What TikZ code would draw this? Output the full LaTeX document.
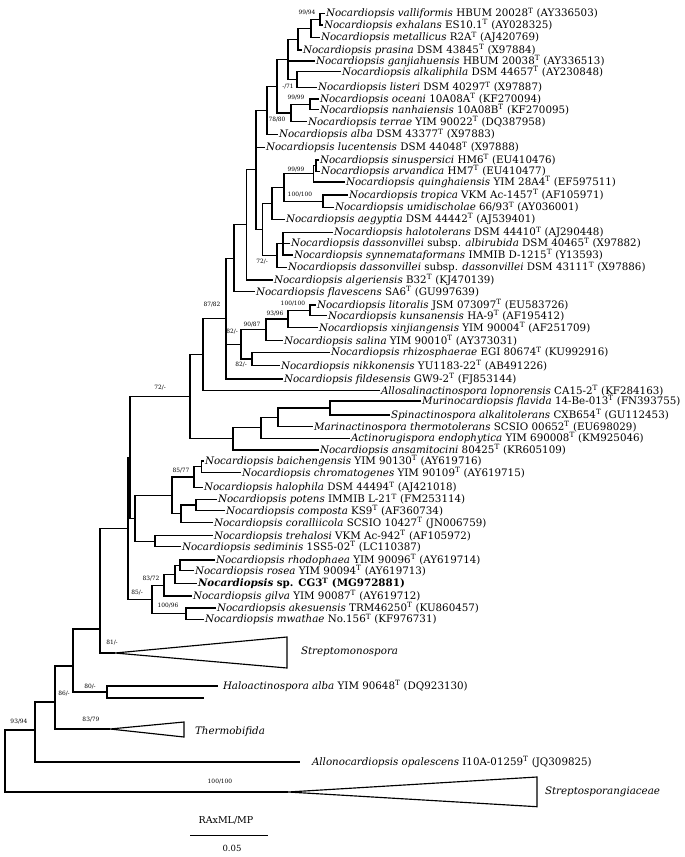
\documentclass[tikz,border=0pt]{standalone}
\usepackage{fontspec}
\setmainfont{DejaVu Serif}
\usetikzlibrary{calc}
\newcommand{\supT}{\textsuperscript{T}}
\newcommand{\leaffont}{\fontsize{10.3}{12}\selectfont}
\newcommand{\bsfont}{\fontsize{5.9}{6.5}\selectfont}
\newcommand{\conn}[2]{\draw[branch] (#1) |- (#2);}
\begin{document}
\begin{tikzpicture}[x=1pt,y=-1pt]
\tikzset{
  branch/.style={line width=1.15pt},
  leaf/.style={anchor=west, inner xsep=0.8pt, inner ysep=0pt, font=\leaffont},
  bs/.style={inner sep=0pt, font=\bsfont},
  clade/.style={line width=1.15pt, line join=miter}
}
\useasboundingbox[fill=white] (0,0) rectangle (685,857);

% ---------------- leaves ----------------
\node[leaf] (L1) at (325,13.3) {\textit{Nocardiopsis valliformis} HBUM 20028\supT\ (AY336503)};
\node[leaf] (L2) at (323,25) {\textit{Nocardiopsis exhalans} ES10.1\supT\ (AY028325)};
\node[leaf] (L3) at (320,37.3) {\textit{Nocardiopsis metallicus} R2A\supT\ (AJ420769)};
\node[leaf] (L4) at (302,50) {\textit{Nocardiopsis prasina} DSM 43845\supT\ (X97884)};
\node[leaf] (L5) at (315,61) {\textit{Nocardiopsis ganjiahuensis} HBUM 20038\supT\ (AY336513)};
\node[leaf] (L6) at (341,71.7) {\textit{Nocardiopsis alkaliphila} DSM 44657\supT\ (AY230848)};
\node[leaf] (L7) at (317,87.3) {\textit{Nocardiopsis listeri} DSM 40297\supT\ (X97887)};
\node[leaf] (L8) at (319,99) {\textit{Nocardiopsis oceani} 10A08A\supT\ (KF270094)};
\node[leaf] (L9) at (319,109.8) {\textit{Nocardiopsis nanhaiensis} 10A08B\supT\ (KF270095)};
\node[leaf] (L10) at (307,121.7) {\textit{Nocardiopsis terrae} YIM 90022\supT\ (DQ387958)};
\node[leaf] (L11) at (278,134.3) {\textit{Nocardiopsis alba} DSM 43377\supT\ (X97883)};
\node[leaf] (L12) at (265,147.3) {\textit{Nocardiopsis lucentensis} DSM 44048\supT\ (X97888)};
\node[leaf] (L13) at (319,160) {\textit{Nocardiopsis sinuspersici} HM6\supT\ (EU410476)};
\node[leaf] (L14) at (320,171.2) {\textit{Nocardiopsis arvandica} HM7\supT\ (EU410477)};
\node[leaf] (L15) at (345,182) {\textit{Nocardiopsis quinghaiensis} YIM 28A4\supT\ (EF597511)};
\node[leaf] (L16) at (348,195) {\textit{Nocardiopsis tropica} VKM Ac-1457\supT\ (AF105971)};
\node[leaf] (L17) at (334,207.3) {\textit{Nocardiopsis umidischolae} 66/93\supT\ (AY036001)};
\node[leaf] (L18) at (285,219.3) {\textit{Nocardiopsis aegyptia} DSM 44442\supT\ (AJ539401)};
\node[leaf] (L19) at (333,232.3) {\textit{Nocardiopsis halotolerans} DSM 44410\supT\ (AJ290448)};
\node[leaf] (L20) at (290,243.3) {\textit{Nocardiopsis dassonvillei} subsp. \textit{albirubida} DSM 40465\supT\ (X97882)};
\node[leaf] (L21) at (293,255) {\textit{Nocardiopsis synnemataformans} IMMIB D-1215\supT\ (Y13593)};
\node[leaf] (L22) at (287,267.3) {\textit{Nocardiopsis dassonvillei} subsp. \textit{dassonvillei} DSM 43111\supT\ (X97886)};
\node[leaf] (L23) at (273,280) {\textit{Nocardiopsis algeriensis} B32\supT\ (KJ470139)};
\node[leaf] (L24) at (255,291.7) {\textit{Nocardiopsis flavescens} SA6\supT\ (GU997639)};
\node[leaf] (L25) at (316,305) {\textit{Nocardiopsis litoralis} JSM 073097\supT\ (EU583726)};
\node[leaf] (L26) at (327,315.7) {\textit{Nocardiopsis kunsanensis} HA-9\supT\ (AF195412)};
\node[leaf] (L27) at (318,327.7) {\textit{Nocardiopsis xinjiangensis} YIM 90004\supT\ (AF251709)};
\node[leaf] (L28) at (283,340.7) {\textit{Nocardiopsis salina} YIM 90010\supT\ (AY373031)};
\node[leaf] (L29) at (330,352.3) {\textit{Nocardiopsis rhizosphaerae} EGI 80674\supT\ (KU992916)};
\node[leaf] (L30) at (280,365.7) {\textit{Nocardiopsis nikkonensis} YU1183-22\supT\ (AB491226)};
\node[leaf] (L31) at (283,379) {\textit{Nocardiopsis fildesensis} GW9-2\supT\ (FJ853144)};
\node[leaf] (L32) at (380,390.7) {\textit{Allosalinactinospora lopnorensis} CA15-2\supT\ (KF284163)};
\node[leaf] (L33) at (421,401) {\textit{Murinocardiopsis flavida} 14-Be-013\supT\ (FN393755)};
\node[leaf] (L34) at (390,415) {\textit{Spinactinospora alkalitolerans} CXB654\supT\ (GU112453)};
\node[leaf] (L35) at (313,426.7) {\textit{Marinactinospora thermotolerans} SCSIO 00652\supT\ (EU698029)};
\node[leaf] (L36) at (350,438.3) {\textit{Actinorugispora endophytica} YIM 690008\supT\ (KM925046)};
\node[leaf] (L37) at (319,450) {\textit{Nocardiopsis ansamitocini} 80425\supT\ (KR605109)};
\node[leaf] (L38) at (204,461) {\textit{Nocardiopsis baichengensis} YIM 90130\supT\ (AY619716)};
\node[leaf] (L39) at (241,472.7) {\textit{Nocardiopsis chromatogenes} YIM 90109\supT\ (AY619715)};
\node[leaf] (L40) at (203,487.3) {\textit{Nocardiopsis halophila} DSM 44494\supT\ (AJ421018)};
\node[leaf] (L41) at (217,499.3) {\textit{Nocardiopsis potens} IMMIB L-21\supT\ (FM253114)};
\node[leaf] (L42) at (225,510.7) {\textit{Nocardiopsis composta} KS9\supT\ (AF360734)};
\node[leaf] (L43) at (213,522.7) {\textit{Nocardiopsis coralliicola} SCSIO 10427\supT\ (JN006759)};
\node[leaf] (L44) at (213,535.7) {\textit{Nocardiopsis trehalosi} VKM Ac-942\supT\ (AF105972)};
\node[leaf] (L45) at (181,546.7) {\textit{Nocardiopsis sediminis} 1SS5-02\supT\ (LC110387)};
\node[leaf] (L46) at (215,560) {\textit{Nocardiopsis rhodophaea} YIM 90096\supT\ (AY619714)};
\node[leaf] (L47) at (194,570.8) {\textit{Nocardiopsis rosea} YIM 90094\supT\ (AY619713)};
\node[leaf] (L48) at (197,583.3) {\textbf{\textit{Nocardiopsis} sp. CG3\supT\ (MG972881)}};
\node[leaf] (L49) at (192,596) {\textit{Nocardiopsis gilva} YIM 90087\supT\ (AY619712)};
\node[leaf] (L50) at (216,608) {\textit{Nocardiopsis akesuensis} TRM46250\supT\ (KU860457)};
\node[leaf] (L51) at (204,619.3) {\textit{Nocardiopsis mwathae} No.156\supT\ (KF976731)};

% ---------------- internal nodes ----------------
\coordinate (VE) at (320,19.2);
\coordinate (M313) at (311,28.2);
\coordinate (P299) at (298,39.1);
\coordinate (AL) at (297,79.5);
\coordinate (G288) at (288,59.3);
\coordinate (ON) at (310,104.4);
\coordinate (T78) at (291,113);
\coordinate (N277) at (277,86.2);
\coordinate (T1) at (267,110.2);
\coordinate (N1) at (316,165.6);
\coordinate (N2) at (313.5,173.8);
\coordinate (N3) at (323,201.2);
\coordinate (N4) at (284,187.5);
\coordinate (N5) at (272,203.4);
\coordinate (N6) at (283,243.7);
\coordinate (N7) at (277,255.5);
\coordinate (N8) at (262.5,229.4);
\coordinate (W) at (256,169.8);
\coordinate (N9) at (246.5,224.9);
\coordinate (B) at (234,258.3);
\coordinate (C100) at (310,310.4);
\coordinate (C93) at (288,319);
\coordinate (C90) at (266,329.9);
\coordinate (Rn) at (252,359);
\coordinate (C) at (241,344.5);
\coordinate (A) at (226,318.7);
\coordinate (N87) at (203,354.7);
\coordinate (MS) at (330,408);
\coordinate (N278) at (278,417.3);
\coordinate (N260) at (261,427.8);
\coordinate (N232) at (233,438.9);
\coordinate (N190) at (190,396.8);
\coordinate (BC) at (201.5,466.8);
\coordinate (N85) at (194,477);
\coordinate (PC) at (196,505);
\coordinate (N181) at (181,513.9);
\coordinate (N172) at (172,495.4);
\coordinate (TS) at (155,541.2);
\coordinate (N135) at (135,518.3);
\coordinate (N72) at (130,457.6);
\coordinate (RR) at (180,565.4);
\coordinate (N175) at (175,574.3);
\coordinate (N83) at (164,585.1);
\coordinate (AM) at (186,613.7);
\coordinate (N85b) at (152,599.4);
\coordinate (N128) at (128,528.5);
\coordinate (N100) at (100,629);
\coordinate (HA) at (107,692);
\coordinate (N73) at (73,666);
\coordinate (N55) at (55,702);
\coordinate (N35) at (35,730);
\coordinate (ROOT) at (5,761);

% collapsed clades and lower leaves
\coordinate (SMa) at (115,653);
\coordinate (SMt) at (287,637);
\coordinate (SMb) at (287,668);
\coordinate (THa) at (110,729);
\coordinate (THt) at (184,722);
\coordinate (THb) at (184,737);
\coordinate (SSa) at (288,792);
\coordinate (SSt) at (537,777);
\coordinate (SSb) at (537,806.7);
\coordinate (HAe) at (218,686);
\coordinate (HBe) at (204,698);
\coordinate (AOe) at (300,762);

% ---------------- branches ----------------
\conn{VE}{L1.west} \conn{VE}{L2.west}
\conn{M313}{VE} \conn{M313}{L3.west}
\conn{P299}{M313} \conn{P299}{L4.west}
\conn{AL}{L6.west} \conn{AL}{L7.west}
\conn{G288}{P299} \conn{G288}{L5.west} \conn{G288}{AL}
\conn{ON}{L8.west} \conn{ON}{L9.west}
\conn{T78}{ON} \conn{T78}{L10.west}
\conn{N277}{G288} \conn{N277}{T78}
\conn{T1}{N277} \conn{T1}{L11.west}
\conn{N1}{L13.west} \conn{N1}{L14.west}
\conn{N2}{N1} \conn{N2}{L15.west}
\conn{N3}{L16.west} \conn{N3}{L17.west}
\conn{N4}{N2} \conn{N4}{N3}
\conn{N5}{N4} \conn{N5}{L18.west}
\conn{N6}{L19.west} \conn{N6}{L20.west} \conn{N6}{L21.west}
\conn{N7}{N6} \conn{N7}{L22.west}
\conn{N8}{N5} \conn{N8}{N7}
\conn{W}{T1} \conn{W}{L12.west} \conn{W}{N8}
\conn{N9}{W} \conn{N9}{L23.west}
\conn{B}{N9} \conn{B}{L24.west}
\conn{C100}{L25.west} \conn{C100}{L26.west}
\conn{C93}{C100} \conn{C93}{L27.west}
\conn{C90}{C93} \conn{C90}{L28.west}
\conn{Rn}{L29.west} \conn{Rn}{L30.west}
\conn{C}{C90} \conn{C}{Rn}
\conn{A}{B} \conn{A}{C} \conn{A}{L31.west}
\conn{N87}{A} \conn{N87}{L32.west}
\conn{MS}{L33.west} \conn{MS}{L34.west}
\conn{N278}{MS} \conn{N278}{L35.west}
\conn{N260}{N278} \conn{N260}{L36.west}
\conn{N232}{N260} \conn{N232}{L37.west}
\conn{N190}{N87} \conn{N190}{N232}
\conn{BC}{L38.west} \conn{BC}{L39.west}
\conn{N85}{BC} \conn{N85}{L40.west}
\conn{PC}{L41.west} \conn{PC}{L42.west}
\conn{N181}{PC} \conn{N181}{L43.west}
\conn{N172}{N85} \conn{N172}{N181}
\conn{TS}{L44.west} \conn{TS}{L45.west}
\conn{N135}{N172} \conn{N135}{TS}
\conn{N72}{N190} \conn{N72}{N135}
\conn{RR}{L46.west} \conn{RR}{L47.west}
\conn{N175}{RR} \conn{N175}{L48.west}
\conn{N83}{N175} \conn{N83}{L49.west}
\conn{AM}{L50.west} \conn{AM}{L51.west}
\conn{N85b}{N83} \conn{N85b}{AM}
\conn{N128}{N72} \conn{N128}{N85b}
\conn{N100}{N128} \conn{N100}{SMa}
\conn{HA}{HAe} \conn{HA}{HBe}
\conn{N73}{N100} \conn{N73}{HA}
\conn{N55}{N73} \conn{N55}{THa}
\conn{N35}{N55} \conn{N35}{AOe}
\conn{ROOT}{N35} \conn{ROOT}{SSa}

% collapsed triangles
\draw[clade] (SMa) -- (SMt) -- (SMb) -- cycle;
\draw[clade] (THa) -- (THt) -- (THb) -- cycle;
\draw[clade] (SSa) -- (SSt) -- (SSb) -- cycle;

% labels of collapsed clades and distant leaves
\node[leaf] (SMl) at (300,652) {\textit{Streptomonospora}};
\node[leaf] (THl) at (194,732) {\textit{Thermobifida}};
\node[leaf] (SSl) at (544,792) {\textit{Streptosporangiaceae}};
\node[leaf] (HAl) at (222,686) {\textit{Haloactinospora alba} YIM 90648\supT\ (DQ923130)};
\node[leaf] (AOl) at (311,762) {\textit{Allonocardiopsis opalescens} I10A-01259\supT\ (JQ309825)};

% ---------------- support values ----------------
\node[bs] (b1) at (307,13) {99/94};
\node[bs] (b2) at (288,87) {-/71};
\node[bs] (b3) at (296,98) {99/99};
\node[bs] (b4) at (277,120) {78/80};
\node[bs] (b5) at (296,170) {99/99};
\node[bs] (b6) at (300,195) {100/100};
\node[bs] (b7) at (262,262) {72/-};
\node[bs] (b8) at (212,305) {87/82};
\node[bs] (b9) at (293,304) {100/100};
\node[bs] (b10) at (275,314) {93/96};
\node[bs] (b11) at (252,325) {90/87};
\node[bs] (b12) at (232,332) {82/-};
\node[bs] (b13) at (241,365) {82/-};
\node[bs] (b14) at (160,388) {72/-};
\node[bs] (b15) at (181,471) {85/77};
\node[bs] (b16) at (151,579) {83/72};
\node[bs] (b17) at (137,593) {85/-};
\node[bs] (b18) at (168,606) {100/96};
\node[bs] (b19) at (112,643) {81/-};
\node[bs] (b20) at (90,687) {80/-};
\node[bs] (b21) at (64,694) {86/-};
\node[bs] (b22) at (91,720) {83/79};
\node[bs] (b23) at (19,722) {93/94};
\node[bs] (b24) at (220,782) {100/100};

% ---------------- scale bar ----------------
\coordinate (SB1) at (190,835);
\coordinate (SB2) at (268,835);
\draw[line width=0.9pt] (SB1) -- (SB2);
\node[font=\fontsize{9.5}{11}\selectfont, inner sep=0pt] (sbt) at (226,820) {RAxML/MP};
\node[font=\fontsize{8.5}{10}\selectfont, inner sep=0pt] (sbv) at (232,848) {0.05};
\end{tikzpicture}
\end{document}
